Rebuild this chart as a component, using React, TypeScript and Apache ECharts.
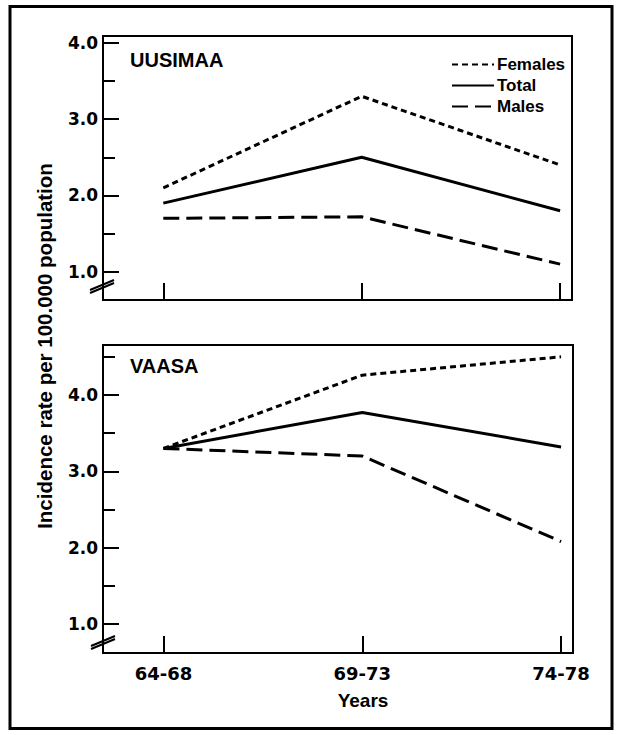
import React, { useEffect, useRef } from "react";
import * as echarts from "echarts";

const periods = ["64-68", "69-73", "74-78"];
const uusimaaFemales = [2.1, 3.3, 2.4];
const uusimaaTotal = [1.9, 2.5, 1.8];
const uusimaaMales = [1.7, 1.72, 1.1];
const vaasaFemales = [3.3, 4.26, 4.5];
const vaasaTotal = [3.3, 3.77, 3.32];
const vaasaMales = [3.3, 3.2, 2.08];
const majorTicks = [1, 2, 3, 4];
const topMinorTicks = [1.5, 2.5, 3.5];
const bottomMinorTicks = [1.5, 2.5, 3.5, 4.5];

const FONT = "'Liberation Sans', Arial, Helvetica, sans-serif";
const DIGIT_FONT = "'DejaVu Sans', 'Liberation Sans', sans-serif";

export default function App() {
  const ref = useRef<HTMLDivElement>(null);
  useEffect(() => {
    if (!ref.current) return;
    const chart = echarts.init(ref.current, null, { renderer: "svg" });
    const pts = (arr: number[]) => arr.map((v, i) => [i, v]);
    const styles: Record<string, any> = {
      Females: { type: [6, 4], width: 3, color: "#000" },
      Total: { type: "solid", width: 3, color: "#000" },
      Males: { type: [16, 7], width: 3, color: "#000" },
    };
    const mk = (name: string, data: number[], xi: number, yi: number) => ({
      name,
      type: "line",
      xAxisIndex: xi,
      yAxisIndex: yi,
      data: pts(data),
      symbol: "none",
      lineStyle: styles[name],
      itemStyle: { color: "#000" },
    });
    const xAxisBase = (gridIndex: number, showLabels: boolean) => ({
      type: "value",
      gridIndex,
      min: -0.304,
      max: 2.06,
      position: "bottom",
      axisLine: { show: false, onZero: false },
      splitLine: { show: false },
      axisTick: {
        show: true,
        inside: true,
        length: 17,
        customValues: [0, 1, 2],
        lineStyle: { color: "#000", width: 2 },
      },
      axisLabel: {
        show: showLabels,
        customValues: [0, 1, 2],
        formatter: (v: number) => periods[Math.round(v)],
        color: "#000",
        fontFamily: DIGIT_FONT,
        fontWeight: "bold",
        fontSize: 18,
        margin: 11,
      },
      ...(showLabels
        ? {
            name: "Years",
            nameLocation: "middle",
            nameGap: 38,
            nameTextStyle: {
              color: "#000",
              fontFamily: FONT,
              fontWeight: "bold",
              fontSize: 19,
              padding: [0, 0, 0, 50],
            },
          }
        : {}),
    });
    const yMajor = (gridIndex: number, min: number, max: number) => ({
      type: "value",
      gridIndex,
      min,
      max,
      position: "left",
      axisLine: { show: false, onZero: false },
      splitLine: { show: false },
      axisTick: {
        show: true,
        inside: true,
        length: 16,
        customValues: majorTicks,
        lineStyle: { color: "#000", width: 2 },
      },
      axisLabel: {
        customValues: majorTicks,
        formatter: (v: number) => v.toFixed(1),
        color: "#000",
        fontFamily: DIGIT_FONT,
        fontWeight: "bold",
        fontSize: 17,
        margin: 5,
      },
    });
    const yMinor = (gridIndex: number, min: number, max: number, ticks: number[]) => ({
      type: "value",
      gridIndex,
      min,
      max,
      position: "left",
      offset: 0,
      axisLine: { show: false, onZero: false },
      splitLine: { show: false },
      axisTick: {
        show: true,
        inside: true,
        length: 12,
        customValues: ticks,
        lineStyle: { color: "#000", width: 2 },
      },
      axisLabel: { show: false },
    });
    const breakMark = (x: number, y: number) => [
      { type: "line", shape: { x1: x, y1: y, x2: x + 24, y2: y - 10 }, style: { stroke: "#000", lineWidth: 2 } },
      { type: "line", shape: { x1: x, y1: y + 3, x2: x + 24, y2: y - 7 }, style: { stroke: "#000", lineWidth: 2 } },
    ];
    chart.setOption({
      animation: false,
      backgroundColor: "#fff",
      grid: [
        { left: 103, top: 36, width: 469, height: 264, show: true, borderColor: "#000", borderWidth: 2, backgroundColor: "transparent" },
        { left: 103, top: 345, width: 470, height: 308, show: true, borderColor: "#000", borderWidth: 2, backgroundColor: "transparent" },
      ],
      xAxis: [xAxisBase(0, false), xAxisBase(1, true)],
      yAxis: [
        yMajor(0, 0.63, 4.09),
        yMinor(0, 0.63, 4.09, topMinorTicks),
        yMajor(1, 0.62, 4.655),
        yMinor(1, 0.62, 4.655, bottomMinorTicks),
      ],
      legend: {
        orient: "vertical",
        left: 446,
        top: 51,
        itemWidth: 42,
        itemHeight: 14,
        itemGap: 4,
        data: ["Females", "Total", "Males"],
        itemStyle: { opacity: 0 },
        textStyle: { color: "#000", fontFamily: FONT, fontWeight: "bold", fontSize: 17, padding: [0, 0, 0, -2] },
      },
      series: [
        mk("Females", uusimaaFemales, 0, 0),
        mk("Total", uusimaaTotal, 0, 0),
        mk("Males", uusimaaMales, 0, 0),
        mk("Females", vaasaFemales, 1, 2),
        mk("Total", vaasaTotal, 1, 2),
        mk("Males", vaasaMales, 1, 2),
      ],
      graphic: [
        { type: "rect", shape: { x: 10, y: 6.5, width: 602, height: 722 }, style: { fill: "none", stroke: "#000", lineWidth: 3 } },
        ...breakMark(90, 290),
        ...breakMark(91, 646),
        {
          type: "text",
          x: 130,
          y: 60,
          style: { text: "UUSIMAA", fill: "#000", font: `bold 20px ${FONT}`, verticalAlign: "middle", align: "left" },
        },
        {
          type: "text",
          x: 130,
          y: 366,
          style: { text: "VAASA", fill: "#000", font: `bold 20px ${FONT}`, verticalAlign: "middle", align: "left" },
        },
        {
          type: "text",
          x: 44,
          y: 346,
          rotation: Math.PI / 2,
          style: {
            text: "Incidence rate per 100.000 population",
            fill: "#000",
            font: `bold 20.5px ${FONT}`,
            align: "center",
            verticalAlign: "middle",
          },
        },
      ],
    });
    return () => chart.dispose();
  }, []);
  return (
    <div
      ref={ref}
      style={{ position: "absolute", left: 0, top: 0, width: 619, height: 735, background: "#fff" }}
    />
  );
}
